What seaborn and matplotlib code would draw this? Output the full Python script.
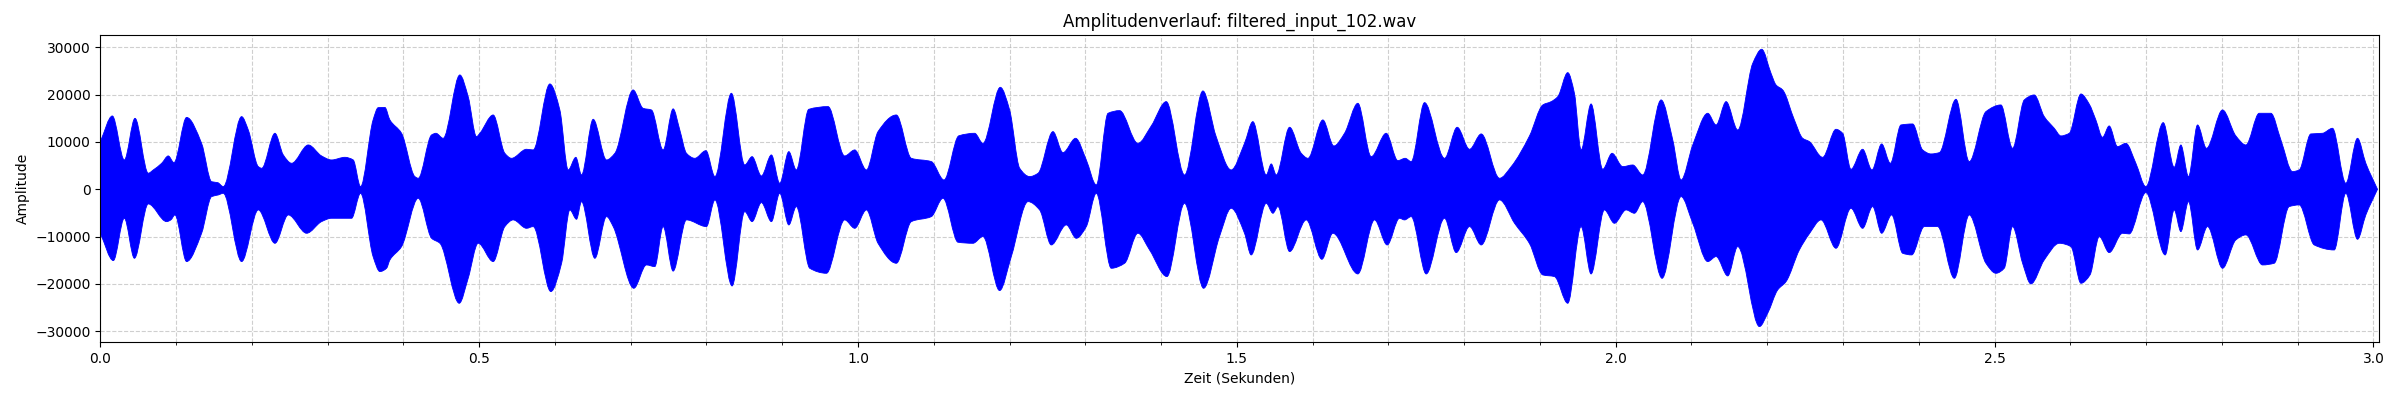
import numpy as np
import matplotlib
matplotlib.use("Agg")
import matplotlib.pyplot as plt
from matplotlib.ticker import MultipleLocator
from matplotlib.path import Path
from matplotlib.patches import PathPatch
import seaborn as sns

# Upper envelope of the waveform (time in s, amplitude)
upper_t = [0.000, 0.0159, 0.0317, 0.0458, 0.0633, 0.0700, 0.0810, 0.0897, 0.0972, 0.1139,
           0.1337, 0.1469, 0.1550, 0.1623, 0.1865, 0.1953, 0.2085, 0.2130, 0.2305, 0.2415,
           0.2525, 0.2745, 0.2920, 0.3052, 0.3228, 0.3338, 0.3435, 0.3600, 0.3668, 0.3756,
           0.3822, 0.3976, 0.4152, 0.4196, 0.4372, 0.4430, 0.4525, 0.4745, 0.4855, 0.4965,
           0.5009, 0.5185, 0.5339, 0.5427, 0.5625, 0.5713, 0.5933, 0.6065, 0.6175, 0.6276,
           0.6351, 0.6505, 0.6681, 0.6791, 0.7032, 0.7164, 0.7274, 0.7428, 0.7560, 0.7648,
           0.7736, 0.7846, 0.7993, 0.8112, 0.8329, 0.8505, 0.8602, 0.8725, 0.8857, 0.8967,
           0.9087, 0.9186, 0.9350, 0.9605, 0.9824, 0.9957, 1.0111, 1.0264, 1.0506, 1.0704,
           1.0968, 1.1135, 1.1330, 1.1539, 1.1649, 1.1878, 1.2001, 1.2134, 1.2266, 1.2376,
           1.2573, 1.2705, 1.2872, 1.3013, 1.3145, 1.3300, 1.3453, 1.3694, 1.3870, 1.4068,
           1.4310, 1.4552, 1.4727, 1.4925, 1.5101, 1.5211, 1.5388, 1.5454, 1.5520, 1.5696,
           1.5850, 1.5938, 1.6135, 1.6280, 1.6421, 1.6597, 1.6773, 1.6971, 1.7125, 1.7222,
           1.7301, 1.7477, 1.7741, 1.7908, 1.8071, 1.8225, 1.8467, 1.8621, 1.8863, 1.9038,
           1.9148, 1.9236, 1.9367, 1.9455, 1.9543, 1.9675, 1.9829, 1.9952, 2.0093, 2.0225,
           2.0357, 2.0599, 2.0753, 2.0863, 2.1017, 2.1215, 2.1325, 2.1457, 2.1611, 2.1809,
           2.1927, 2.2050, 2.2116, 2.2204, 2.2358, 2.2468, 2.2556, 2.2731, 2.2907, 2.2995,
           2.3105, 2.3259, 2.3382, 2.3510, 2.3625, 2.3765, 2.3919, 2.4051, 2.4161, 2.4271,
           2.4491, 2.4666, 2.4886, 2.5084, 2.5238, 2.5392, 2.5524, 2.5656, 2.5788, 2.5876,
           2.5986, 2.6140, 2.6250, 2.6337, 2.6425, 2.6513, 2.6623, 2.6733, 2.6865, 2.6997,
           2.7226, 2.7371, 2.7459, 2.7560, 2.7679, 2.7797, 2.8009, 2.8185, 2.8317, 2.8493,
           2.8647, 2.8779, 2.8933, 2.9021, 2.9174, 2.9328, 2.9460, 2.9636, 2.9790, 2.9900,
           3.0054]
upper_a = [10080, 15500, 6200, 15000, 3400, 4100, 5500, 7050, 5640, 15200,
           9700, 1600, 1400, 560, 15360, 12540, 4800, 4440, 11840, 7260,
           5500, 9370, 7050, 6200, 6760, 6200, 560, 14660, 17260, 17300,
           14660, 11840, 2680, 2330, 11490, 11840, 10780, 24170, 19590, 11130,
           11840, 15710, 7610, 6550, 8460, 8320, 22270, 16770, 4090, 6760,
           3030, 14800, 6200, 7610, 21000, 17120, 16770, 8320, 17000, 12540,
           7610, 6550, 8170, 2680, 20300, 5140, 6900, 2820, 7260, 1270,
           7960, 4090, 16910, 17480, 7050, 8320, 4090, 12190, 15710, 6550,
           5850, 1970, 11300, 11840, 9720, 21560, 16770, 4440, 2680, 3380,
           12190, 7750, 10780, 6200, 920, 16070, 16630, 9720, 13390, 18530,
           3030, 20790, 11130, 4090, 9720, 14300, 3030, 5360, 3030, 13110,
           7610, 6550, 14660, 9160, 11840, 18180, 6900, 11840, 6060, 6550,
           5850, 18320, 6550, 13110, 8460, 11700, 2330, 4790, 11300, 17830,
           18530, 19590, 24660, 20300, 8320, 18040, 4230, 7610, 4790, 5140,
           3030, 18890, 10430, 1970, 9370, 16070, 13600, 18530, 12540, 26640,
           29600, 24520, 22060, 21000, 14660, 10780, 10080, 6760, 12680, 11840,
           4230, 8460, 4090, 9580, 5500, 13600, 13810, 8320, 7470, 7750,
           19030, 5850, 16420, 17830, 8670, 18890, 19940, 15360, 12900, 11280,
           11840, 20150, 18000, 14660, 10990, 13390, 9020, 9720, 5500, 560,
           14090, 4650, 9370, 2680, 13600, 8670, 16770, 11280, 9370, 16070,
           16070, 10430, 3730, 4090, 11700, 11840, 12900, 1270, 10780, 5500,
           0]

# Lower envelope of the waveform (time in s, amplitude)
lower_t = [0.000, 0.0172, 0.0317, 0.0450, 0.0633, 0.0875, 0.0931, 0.0985, 0.1139, 0.1337,
           0.1469, 0.1557, 0.1623, 0.1865, 0.2085, 0.2305, 0.2481, 0.2723, 0.2920, 0.3052,
           0.3316, 0.3435, 0.3600, 0.3690, 0.3778, 0.3822, 0.3976, 0.4196, 0.4372, 0.4482,
           0.4737, 0.4855, 0.4987, 0.5185, 0.5339, 0.5449, 0.5625, 0.5713, 0.5946, 0.6088,
           0.6197, 0.6285, 0.6351, 0.6527, 0.6681, 0.6769, 0.7041, 0.7208, 0.7318, 0.7428,
           0.7560, 0.7736, 0.7999, 0.8112, 0.8338, 0.8505, 0.8602, 0.8725, 0.8857, 0.8967,
           0.9087, 0.9186, 0.9363, 0.9583, 0.9824, 0.9957, 1.0111, 1.0264, 1.0506, 1.0704,
           1.0968, 1.1122, 1.1320, 1.1517, 1.1649, 1.1869, 1.2023, 1.2244, 1.2397, 1.2551,
           1.2749, 1.2881, 1.3013, 1.3145, 1.3343, 1.3519, 1.3694, 1.3848, 1.4077, 1.4310,
           1.4561, 1.4771, 1.4925, 1.5101, 1.5189, 1.5388, 1.5476, 1.5542, 1.5696, 1.5916,
           1.6122, 1.6267, 1.6597, 1.6817, 1.6984, 1.7147, 1.7213, 1.7301, 1.7499, 1.7741,
           1.7895, 1.8071, 1.8225, 1.8467, 1.8665, 1.8863, 1.9038, 1.9192, 1.9367, 1.9543,
           1.9675, 1.9851, 1.9983, 2.0137, 2.0247, 2.0357, 2.0612, 2.0863, 2.1017, 2.1215,
           2.1325, 2.1479, 2.1611, 2.1897, 2.2006, 2.2138, 2.2248, 2.2424, 2.2556, 2.2710,
           2.2907, 2.3105, 2.3259, 2.3391, 2.3510, 2.3642, 2.3787, 2.3906, 2.4073, 2.4249,
           2.4469, 2.4666, 2.4886, 2.5018, 2.5128, 2.5238, 2.5370, 2.5480, 2.5656, 2.5854,
           2.6008, 2.6140, 2.6260, 2.6382, 2.6513, 2.6689, 2.6777, 2.6997, 2.7252, 2.7371,
           2.7459, 2.7560, 2.7679, 2.7811, 2.8009, 2.8185, 2.8317, 2.8537, 2.8691, 2.8889,
           2.9021, 2.9219, 2.9483, 2.9636, 2.9790, 2.9900, 3.0054]
lower_a = [-9300, -15080, -6130, -14590, -3100, -6840, -6480, -5430, -15290, -9300,
           -1550, -1200, -850, -15290, -4370, -11420, -5430, -9300, -6840, -6130,
           -6130, -850, -14230, -17400, -16700, -14940, -12120, -1900, -10360, -11420,
           -24100, -18820, -11420, -15290, -7890, -6480, -8250, -7890, -21630, -15640,
           -4370, -6340, -2610, -14590, -5780, -7890, -20930, -16000, -16350, -7890,
           -17300, -6480, -7890, -2250, -20440, -4720, -6840, -2820, -6840, -850,
           -7540, -3660, -16700, -17760, -6480, -8250, -4370, -11420, -15640, -6840,
           -5780, -1900, -11200, -11420, -10000, -21420, -14230, -2610, -4370, -11770,
           -7540, -10360, -7890, -850, -16700, -15640, -9300, -12830, -18460, -2960,
           -20930, -10000, -4020, -9300, -13880, -2960, -5070, -3660, -13180, -6480,
           -14800, -9300, -17900, -6480, -11770, -6130, -6480, -5780, -17900, -6130,
           -13390, -7890, -11770, -2250, -7190, -11500, -18110, -18460, -24100, -7890,
           -17900, -4370, -7190, -4370, -5070, -2610, -18820, -1550, -7190, -15290,
           -14230, -18320, -12120, -29030, -26210, -21280, -19520, -12830, -9400, -6480,
           -12470, -4020, -8250, -3660, -9300, -5430, -13530, -13880, -7890, -7890,
           -18820, -5430, -15640, -17760, -16700, -7890, -15640, -20010, -14940, -11420,
           -12120, -19870, -18110, -10000, -13390, -9300, -9440, -700, -13880, -4370,
           -8950, -2610, -12830, -7890, -16700, -10710, -9650, -16000, -15640, -3660,
           -3310, -11770, -12830, -850, -10570, -5430, 0]

title = "Amplitudenverlauf: filtered_input_102.wav"
x_label = "Zeit (Sekunden)"
y_label = "Amplitude"

sns.set_style("ticks", rc={
    "axes.edgecolor": "black", "axes.linewidth": 0.8,
    "text.color": "black", "axes.labelcolor": "black",
    "xtick.color": "black", "ytick.color": "black",
    "xtick.major.size": 3.5, "ytick.major.size": 3.5,
    "xtick.minor.size": 2.0, "xtick.major.width": 0.8, "ytick.major.width": 0.8,
    "xtick.minor.width": 0.6,
    "grid.color": "#b0b0b0", "grid.linestyle": "--", "grid.linewidth": 0.8,
    "axes.grid": True,
})
plt.rcParams['font.family'] = ['DejaVu Sans']


def hermite_path(x, y):
    """Smooth monotone (PCHIP-style) Bezier vertices through the read points."""
    x = np.asarray(x, float)
    y = np.asarray(y, float)
    n = len(x)
    h = np.diff(x)
    delta = np.diff(y) / h
    d = np.zeros(n)
    for k in range(1, n - 1):
        if delta[k - 1] * delta[k] > 0:
            w1 = 2 * h[k] + h[k - 1]
            w2 = h[k] + 2 * h[k - 1]
            d[k] = (w1 + w2) / (w1 / delta[k - 1] + w2 / delta[k])
    d[0] = delta[0]
    d[-1] = delta[-1]
    verts = [(x[0], y[0])]
    for i in range(n - 1):
        hh = h[i]
        verts.append((x[i] + hh / 3, y[i] + d[i] * hh / 3))
        verts.append((x[i + 1] - hh / 3, y[i + 1] - d[i + 1] * hh / 3))
        verts.append((x[i + 1], y[i + 1]))
    return verts


fig = plt.figure(figsize=(24, 4), dpi=100)
ax = fig.add_axes([0.0418, 0.1443, 0.9493, 0.7675])

up_v = hermite_path(upper_t, upper_a)
lo_v = hermite_path(lower_t, lower_a)[::-1]
verts = up_v + [lo_v[0]] + lo_v[1:] + [up_v[0]]
codes = ([Path.MOVETO] + [Path.CURVE4] * (len(up_v) - 1) + [Path.LINETO]
         + [Path.CURVE4] * (len(lo_v) - 1) + [Path.CLOSEPOLY])
patch = PathPatch(Path(verts, codes), facecolor='blue', edgecolor='blue',
                  linewidth=0.6, zorder=2)
ax.add_patch(patch)

ax.set_xlim(0, 3.0069)
ax.set_ylim(-32350, 32560)
ax.xaxis.set_major_locator(MultipleLocator(0.5))
ax.xaxis.set_minor_locator(MultipleLocator(0.1))
ax.yaxis.set_major_locator(MultipleLocator(10000))
ax.grid(True, which='both', linestyle='--', alpha=0.6, zorder=0)
ax.set_axisbelow(True)

ax.set_title(title, fontsize=12)
ax.set_xlabel(x_label, fontsize=10)
ax.set_ylabel(y_label, fontsize=10)
ax.tick_params(labelsize=10)

fig.savefig("out.png", dpi=100)
